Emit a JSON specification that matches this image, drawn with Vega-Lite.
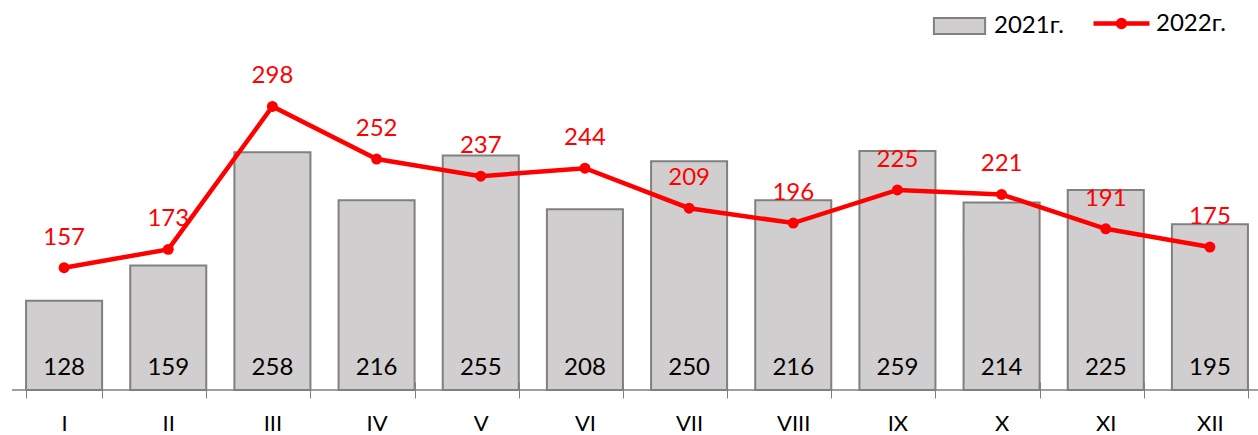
{
  "$schema": "https://vega.github.io/schema/vega-lite/v6.json",
  "width": 1246,
  "height": 343,
  "autosize": "none",
  "padding": {"left": 12, "top": 47, "right": 0, "bottom": 45},
  "background": "white",
  "config": {"view": {"stroke": null}, "font": "Lato"},
  "data": {"values": [
    {"m": "I", "a": 128, "b": 157},
    {"m": "II", "a": 159, "b": 173},
    {"m": "III", "a": 258, "b": 298},
    {"m": "IV", "a": 216, "b": 252},
    {"m": "V", "a": 255, "b": 237},
    {"m": "VI", "a": 208, "b": 244},
    {"m": "VII", "a": 250, "b": 209},
    {"m": "VIII", "a": 216, "b": 196},
    {"m": "IX", "a": 259, "b": 225},
    {"m": "X", "a": 214, "b": 221},
    {"m": "XI", "a": 225, "b": 191},
    {"m": "XII", "a": 195, "b": 175}
  ]},
  "layer": [
    {
      "mark": {"type": "bar", "stroke": "#808080", "strokeWidth": 2},
      "encoding": {
        "x": {"field": "m", "type": "nominal", "sort": null,
          "scale": {"range": [0, 1250], "paddingInner": 0.27, "paddingOuter": 0.135},
          "axis": {"title": null, "domain": false, "tickBand": "extent", "tickSize": 16, "offset": -8,
            "tickColor": "#808080", "tickWidth": 1, "labelFontSize": 22, "labelColor": "black",
            "labelBaseline": "alphabetic", "labelPadding": 32, "labelAngle": 0, "labelFont": "Lato"}},
        "y": {"field": "a", "type": "quantitative", "scale": {"domain": [50, 350], "zero": false, "nice": false}, "axis": null},
        "y2": {"datum": 50},
        "fill": {"datum": "2021г.", "type": "nominal", "scale": {"range": ["#D0CECE"]},
          "legend": {"orient": "none", "legendX": 930.5, "legendY": -38, "title": null,
            "symbolType": "M-1.6,-0.5H1.6V0.5H-1.6Z", "symbolSize": 1024,
            "symbolStrokeColor": "#808080", "symbolStrokeWidth": 2,
            "labelFontSize": 24, "labelFont": "Lato", "labelColor": "black", "labelOffset": 17.5, "padding": 0,
            "encode": {"symbols": {"update": {"fill": {"value": "#D0CECE"}, "stroke": {"value": "#808080"}, "strokeWidth": {"value": 2}}}}}}
      }
    },
    {
      "data": {"values": [{"k": 1}]},
      "mark": {"type": "rule", "color": "#808080", "strokeWidth": 1.5},
      "encoding": {"y": {"datum": 50, "type": "quantitative", "scale": {"domain": [50, 350], "zero": false, "nice": false}}}
    },
    {
      "mark": {"type": "text", "fontSize": 24, "color": "black", "baseline": "alphabetic", "dy": -15, "font": "Lato"},
      "encoding": {
        "x": {"field": "m", "type": "nominal", "sort": null},
        "y": {"datum": 50, "type": "quantitative", "scale": {"domain": [50, 350], "zero": false, "nice": false}},
        "text": {"field": "a", "type": "quantitative"}
      }
    },
    {
      "mark": {"type": "line", "strokeWidth": 4.5},
      "encoding": {
        "x": {"field": "m", "type": "nominal", "sort": null},
        "y": {"field": "b", "type": "quantitative", "scale": {"domain": [50, 350], "zero": false, "nice": false}},
        "stroke": {"datum": "2022г.", "type": "nominal", "scale": {"range": ["#FF0000"]},
          "legend": {"orient": "none", "legendX": 1091, "legendY": -42, "title": null,
            "symbolType": "M-1.75,0H1.75M-0.22,0A0.22,0.22,0,1,1,0.22,0A0.22,0.22,0,1,1,-0.22,0Z",
            "symbolSize": 1024, "symbolStrokeWidth": 4.5,
            "labelFontSize": 24, "labelFont": "Lato", "labelColor": "black", "labelOffset": 16, "padding": 0,
            "encode": {"symbols": {"update": {"fill": {"value": "#FF0000"}, "stroke": {"value": "#FF0000"}, "strokeWidth": {"value": 4.5}}}}}}
      }
    },
    {
      "mark": {"type": "point", "filled": true, "color": "#FF0000", "size": 120, "opacity": 1},
      "encoding": {
        "x": {"field": "m", "type": "nominal", "sort": null},
        "y": {"field": "b", "type": "quantitative", "scale": {"domain": [50, 350], "zero": false, "nice": false}}
      }
    },
    {
      "mark": {"type": "text", "fontSize": 24, "color": "#FF0000", "baseline": "alphabetic", "dy": -23, "font": "Lato"},
      "encoding": {
        "x": {"field": "m", "type": "nominal", "sort": null},
        "y": {"field": "b", "type": "quantitative", "scale": {"domain": [50, 350], "zero": false, "nice": false}},
        "text": {"field": "b", "type": "quantitative"}
      }
    }
  ]
}
